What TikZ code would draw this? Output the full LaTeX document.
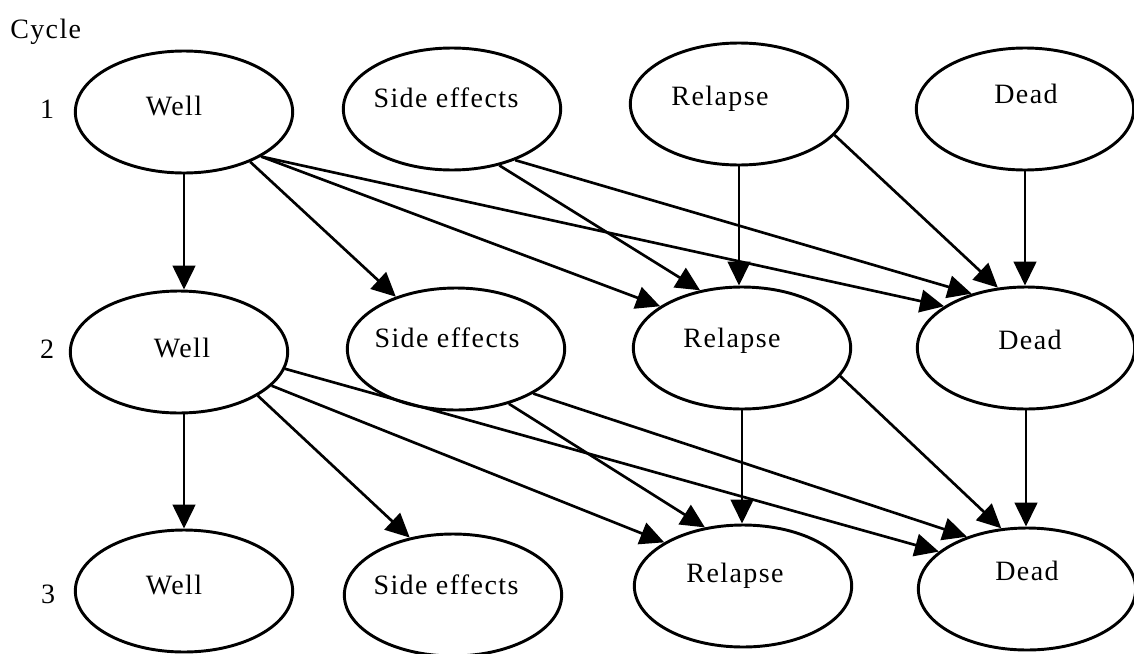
\documentclass[tikz,border=0pt]{standalone}
\usepackage{fontspec}
\newfontfamily\statefont{Liberation Serif}[LetterSpace=5]
\usetikzlibrary{shapes.geometric, arrows.meta}

\begin{document}
\begin{tikzpicture}[x=0.75pt, y=-0.75pt,
  state/.style={draw, ellipse, line width=2.2pt, minimum width=163pt,
                minimum height=91.5pt, inner sep=0pt},
  statetext/.style={anchor=base, inner sep=0pt,
                    font=\statefont\fontsize{21pt}{25pt}\selectfont},
  link/.style={line width=2pt, -{Triangle[length=18pt, width=17pt]}}]

\useasboundingbox (0,0) rectangle (1134,653);

% heading and cycle numbers
\node[statetext, anchor=base west] (cycle) at (10,38) {Cycle};
\node[statetext] (c1) at (47,118) {1};
\node[statetext] (c2) at (47,358) {2};
\node[statetext] (c3) at (48,603) {3};

% cycle 1
\node[state] (w1) at (184,112) {};
\node[state] (s1) at (452,109) {};
\node[state] (r1) at (739,104) {};
\node[state] (d1) at (1025,109) {};
% cycle 2
\node[state] (w2) at (179,352) {};
\node[state] (s2) at (456,349) {};
\node[state] (r2) at (742,348) {};
\node[state] (d2) at (1026,348) {};
% cycle 3
\node[state] (w3) at (184,591) {};
\node[state] (s3) at (453,595) {};
\node[state] (r3) at (743,586) {};
\node[state] (d3) at (1027,589) {};

% state names
\node[statetext] (tw1) at (174,115) {Well};
\node[statetext] (ts1) at (446,107) {Side effects};
\node[statetext] (tr1) at (720,105) {Relapse};
\node[statetext] (td1) at (1026,103) {Dead};
\node[statetext] (tw2) at (182,357) {Well};
\node[statetext] (ts2) at (447,347) {Side effects};
\node[statetext] (tr2) at (732,347) {Relapse};
\node[statetext] (td2) at (1030,349) {Dead};
\node[statetext] (tw3) at (174,594) {Well};
\node[statetext] (ts3) at (446,594) {Side effects};
\node[statetext] (tr3) at (735,582) {Relapse};
\node[statetext] (td3) at (1027,580) {Dead};

% transitions from cycle 1 to cycle 2
\draw[link] (w1.south) -- (w1.south |- w2.north);
\draw[link] (w1.-37) -- (s2.139);
\draw[link] (w1.-30) -- (r2.153);
\draw[link] (w1.-30) -- (d2.153);
\draw[link] (s1.-50) -- (r2.126);
\draw[link] (s1.-39) -- (d2.135);
\draw[link] (r1.south) -- (r1.south |- r2.north);
\draw[link] (r1.-18) -- (d2.115);
\draw[link] (d1.south) -- (d1.south |- d2.north);

% transitions from cycle 2 to cycle 3
\draw[link] (w3.north |- w2.south) -- (w3.north);
\draw[link] (w2.-29) -- (s3.127);
\draw[link] (w2.-20) -- (r3.151);
\draw[link] (w2.-9) -- (d3.157);
\draw[link] (s2.-46) -- (r3.123);
\draw[link] (s2.-30) -- (d3.139);
\draw[link] (r2.south) -- (r2.south |- r3.north);
\draw[link] (r2.-16) -- (d3.113);
\draw[link] (d2.south) -- (d2.south |- d3.north);
\end{tikzpicture}
\end{document}
